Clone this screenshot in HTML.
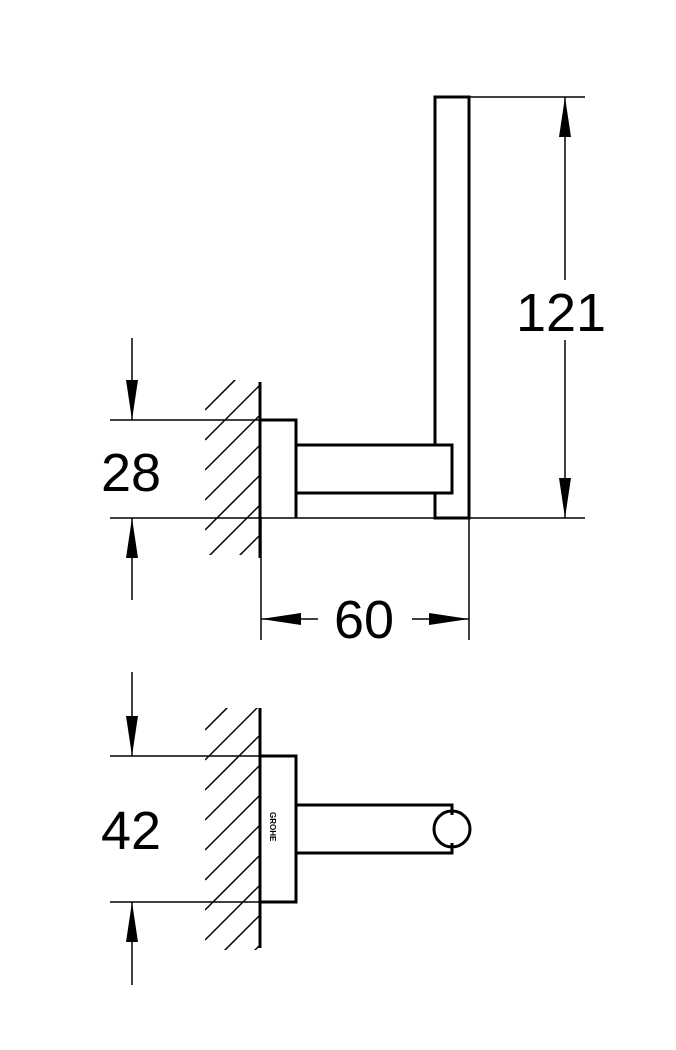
<!DOCTYPE html>
<html><head><style>body{margin:0;background:#fff}svg{display:block}</style></head><body>
<svg width="676" height="1050" viewBox="0 0 676 1050" xmlns="http://www.w3.org/2000/svg">
<defs>
<marker id="a" markerWidth="40" markerHeight="14" refX="40" refY="7" orient="auto" markerUnits="userSpaceOnUse"><path d="M0,1 L40,7 L0,13 Z" fill="#000"/></marker>
<clipPath id="h1"><rect x="205" y="380" width="55" height="175"/></clipPath>
<clipPath id="h2"><rect x="205" y="708" width="55" height="242"/></clipPath>
</defs>
<g stroke="#000" fill="none">
<g stroke-width="1.5" clip-path="url(#h1)">
<path d="M205,410 l60,-60 M205,440 l60,-60 M205,470 l60,-60 M205,500 l60,-60 M205,530 l60,-60 M205,560 l60,-60 M205,590 l60,-60"/>
</g>
<g stroke-width="1.5" clip-path="url(#h2)">
<path d="M205,730 l60,-60 M205,760 l60,-60 M205,790 l60,-60 M205,820 l60,-60 M205,850 l60,-60 M205,880 l60,-60 M205,910 l60,-60 M205,940 l60,-60 M205,970 l60,-60 M205,1000 l60,-60"/>
</g>
<line x1="260" y1="382" x2="260" y2="558" stroke-width="3"/>
<path d="M260,420 H296 V518" stroke-width="3"/>
<path d="M296,445 H452 V493 H296" stroke-width="3"/>
<path d="M435,445 V97 H469 V518 H435 V493" stroke-width="3"/>
<line x1="260" y1="708" x2="260" y2="948" stroke-width="3"/>
<path d="M260,756 H296 V902 H260" stroke-width="3"/>
<path d="M296,805 H452 V815 M296,853 H452 V843" stroke-width="3"/>
<circle cx="452" cy="829" r="18" stroke-width="3"/>
<g stroke-width="1.5">
<line x1="469" y1="97" x2="585" y2="97"/>
<line x1="110" y1="518" x2="585" y2="518"/>
<line x1="110" y1="420" x2="260" y2="420"/>
<line x1="565" y1="280" x2="565" y2="97" marker-end="url(#a)"/>
<line x1="565" y1="340" x2="565" y2="518" marker-end="url(#a)"/>
<line x1="132" y1="338" x2="132" y2="420" marker-end="url(#a)"/>
<line x1="132" y1="600" x2="132" y2="518" marker-end="url(#a)"/>
<line x1="261" y1="518" x2="261" y2="640"/>
<line x1="469" y1="518" x2="469" y2="640"/>
<line x1="318" y1="619" x2="261" y2="619" marker-end="url(#a)"/>
<line x1="412" y1="619" x2="469" y2="619" marker-end="url(#a)"/>
<line x1="110" y1="756" x2="260" y2="756"/>
<line x1="110" y1="902" x2="260" y2="902"/>
<line x1="132" y1="672" x2="132" y2="756" marker-end="url(#a)"/>
<line x1="132" y1="985" x2="132" y2="902" marker-end="url(#a)"/>
</g>
</g>
<g font-family="Liberation Sans, sans-serif" font-size="54" text-anchor="middle" fill="#000">
<text x="561" y="331">121</text>
<text x="131" y="491">28</text>
<text x="364" y="638">60</text>
<text x="131" y="849">42</text>
</g>
<text x="0" y="0" font-family="Liberation Sans, sans-serif" font-size="8" font-weight="bold" transform="translate(270,812) rotate(90)">GROHE</text>
</svg>
</body></html>
